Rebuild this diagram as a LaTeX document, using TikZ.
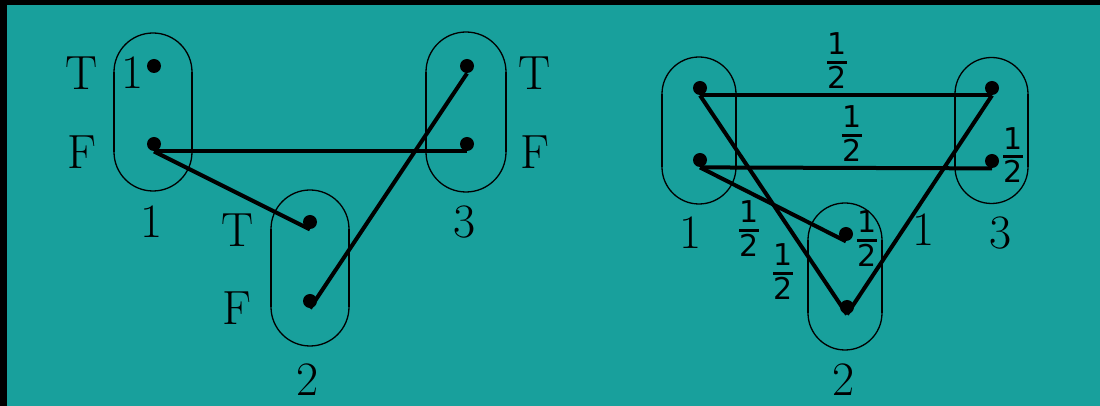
\documentclass[tikz,border=0pt]{standalone}
\usepackage{fontspec}
\newfontfamily\fracfont{DejaVu Sans}
\definecolor{teal}{RGB}{24,160,156}
\newcommand\hlf{{\fracfont\fontsize{15}{15}\selectfont\vbox{\offinterlineskip\halign{\hfil##\hfil\cr 1\cr\noalign{\kern3pt\hrule height1.5pt\kern1pt}2\cr}}}}
% #1 cx, #2 top-centre y, #3 bottom-centre y, #4 r (px), #5 r (pt)
\newcommand\mycapsule[5]{%
  \draw[capedge] ({#1-#4},{#2}) arc[start angle=180,end angle=0,radius=#5] -- ({#1+#4},{#3}) arc[start angle=0,end angle=-180,radius=#5] -- cycle;
  \draw[capside] ({#1-#4},{#2}) -- ({#1-#4},{#3});
  \draw[capside] ({#1+#4},{#2}) -- ({#1+#4},{#3});
}
\begin{document}
\begin{tikzpicture}[x=0.5pt,y=-0.5pt,
  capedge/.style={line width=0.65pt},
  capside/.style={line width=1.2pt},
  dot/.style={circle,fill=black,inner sep=0pt,minimum size=7pt},
  conn/.style={line width=2pt},
  lab/.style={font=\fontsize{24}{28}\selectfont,inner sep=0pt},
  fr/.style={inner sep=0pt}]
\useasboundingbox (0,0) rectangle (1100,406);
\fill[black] (0,0) rectangle (1100,406);
\fill[teal] (7,5) rectangle (1100,406);
% left diagram capsules
\mycapsule{153}{72}{152}{39}{19.5pt}
\mycapsule{310}{229}{307}{39}{19.5pt}
\mycapsule{466}{72}{152}{40}{20pt}
% right diagram capsules
\mycapsule{699}{94}{167}{37}{18.5pt}
\mycapsule{845}{240}{313}{37}{18.5pt}
\mycapsule{991.5}{94}{167}{36.5}{18.25pt}
% dots left
\node[dot] (L1T) at (154,66) {};
\node[dot] (L1F) at (154,144) {};
\node[dot] (L2T) at (310,222) {};
\node[dot] (L2F) at (310,301) {};
\node[dot] (L3T) at (467,66) {};
\node[dot] (L3F) at (467,144) {};
% dots right
\node[dot] (R1T) at (700,88) {};
\node[dot] (R1F) at (700,160) {};
\node[dot] (R2T) at (846,234) {};
\node[dot] (R2F) at (847,307) {};
\node[dot] (R3T) at (992,88) {};
\node[dot] (R3F) at (992,161) {};
% connectors left
\draw[conn] (L1F.south) -- (L3F.south);
\draw[conn] (L1F.south) -- (L2T.south);
\draw[conn] (L2F.south) -- (L3T.south);
% connectors right
\draw[conn] (R1T.south) -- (R3T.south);
\draw[conn] (R1F.south) -- (R3F.south);
\draw[conn] (R1T.south) -- (R2F.south);
\draw[conn] (R2F.south) -- (R3T.south);
\draw[conn] (R1F.south) -- (R2T.south);
% labels left
\node[lab] (tl1) at (82,73) {T};
\node[lab] (ol1) at (133,73) {1};
\node[lab] (fl1) at (82,152) {F};
\node[lab] (n1) at (152,222) {1};
\node[lab] (tl2) at (238,230) {T};
\node[lab] (fl2) at (237,308) {F};
\node[lab] (n2) at (308,380) {2};
\node[lab] (tl3) at (535,73) {T};
\node[lab] (fl3) at (535,152) {F};
\node[lab] (n3) at (465,222) {3};
% labels right
\node[lab] (m1) at (691,233) {1};
\node[lab] (m3) at (1001,233) {3};
\node[lab] (m2) at (844,380) {2};
\node[lab] (one) at (924,230) {1};
\node[fr] (h1) at (837,60.5) {\hlf};
\node[fr] (h2) at (852,133.5) {\hlf};
\node[fr] (h3) at (1013,155) {\hlf};
\node[fr] (h4) at (749,228.5) {\hlf};
\node[fr] (h5) at (783,271.5) {\hlf};
\node[fr] (h6) at (867,238.5) {\hlf};
\end{tikzpicture}
\end{document}
